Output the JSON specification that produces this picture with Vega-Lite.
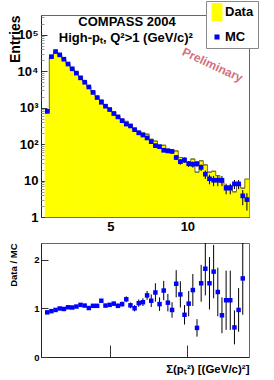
{
  "$schema": "https://vega.github.io/schema/vega-lite/v6.json",
  "background": "white",
  "padding": {"left": 7, "top": 0, "right": 0, "bottom": 0},
  "spacing": 26,
  "bounds": "flush",
  "config": {
    "font": "Liberation Sans",
    "view": {"stroke": "#666", "strokeWidth": 1},
    "axis": {"grid": false, "labelFont": "Liberation Sans", "labelFontWeight": "bold", "labelColor": "black", "titleFont": "Liberation Sans", "titleFontWeight": "bold", "titleColor": "black", "domainColor": "#222", "tickColor": "#333", "labelOverlap": false, "labelFlush": false}
  },
  "datasets": {
    "bins": [
      {"lo": 0.77, "hi": 1.04, "x": 0.905, "data": 730, "mc": 794, "mcerr": 20, "ratio": 0.92, "rerr": 0.012},
      {"lo": 1.04, "hi": 1.31, "x": 1.175, "data": 23700, "mc": 25100, "mcerr": 150, "ratio": 0.945, "rerr": 0.008},
      {"lo": 1.31, "hi": 1.58, "x": 1.445, "data": 33700, "mc": 34700, "mcerr": 180, "ratio": 0.97, "rerr": 0.008},
      {"lo": 1.58, "hi": 1.85, "x": 1.715, "data": 28200, "mc": 28200, "mcerr": 160, "ratio": 1.0, "rerr": 0.008},
      {"lo": 1.85, "hi": 2.12, "x": 1.985, "data": 21200, "mc": 21400, "mcerr": 140, "ratio": 0.99, "rerr": 0.008},
      {"lo": 2.12, "hi": 2.39, "x": 2.255, "data": 16200, "mc": 15800, "mcerr": 120, "ratio": 1.025, "rerr": 0.009},
      {"lo": 2.39, "hi": 2.66, "x": 2.525, "data": 11900, "mc": 11700, "mcerr": 100, "ratio": 1.02, "rerr": 0.01},
      {"lo": 2.66, "hi": 2.93, "x": 2.795, "data": 9260, "mc": 8900, "mcerr": 90, "ratio": 1.04, "rerr": 0.011},
      {"lo": 2.93, "hi": 3.2, "x": 3.065, "data": 7100, "mc": 6600, "mcerr": 80, "ratio": 1.075, "rerr": 0.012},
      {"lo": 3.2, "hi": 3.47, "x": 3.335, "data": 5300, "mc": 5000, "mcerr": 70, "ratio": 1.06, "rerr": 0.014},
      {"lo": 3.47, "hi": 3.74, "x": 3.605, "data": 3740, "mc": 3700, "mcerr": 60, "ratio": 1.01, "rerr": 0.016},
      {"lo": 3.74, "hi": 4.01, "x": 3.875, "data": 2770, "mc": 2630, "mcerr": 50, "ratio": 1.055, "rerr": 0.02},
      {"lo": 4.01, "hi": 4.28, "x": 4.145, "data": 2000, "mc": 1900, "mcerr": 45, "ratio": 1.055, "rerr": 0.025},
      {"lo": 4.28, "hi": 4.55, "x": 4.415, "data": 1640, "mc": 1410, "mcerr": 38, "ratio": 1.16, "rerr": 0.03},
      {"lo": 4.55, "hi": 4.82, "x": 4.685, "data": 1170, "mc": 1100, "mcerr": 34, "ratio": 1.06, "rerr": 0.035},
      {"lo": 4.82, "hi": 5.09, "x": 4.955, "data": 957, "mc": 890, "mcerr": 30, "ratio": 1.075, "rerr": 0.038},
      {"lo": 5.09, "hi": 5.36, "x": 5.225, "data": 760, "mc": 690, "mcerr": 26, "ratio": 1.1, "rerr": 0.042},
      {"lo": 5.36, "hi": 5.63, "x": 5.495, "data": 590, "mc": 560, "mcerr": 24, "ratio": 1.055, "rerr": 0.045},
      {"lo": 5.63, "hi": 5.9, "x": 5.765, "data": 480, "mc": 440, "mcerr": 21, "ratio": 1.09, "rerr": 0.05},
      {"lo": 5.9, "hi": 6.17, "x": 6.035, "data": 422, "mc": 355, "mcerr": 19, "ratio": 1.19, "rerr": 0.06},
      {"lo": 6.17, "hi": 6.44, "x": 6.305, "data": 337, "mc": 316, "mcerr": 18, "ratio": 1.065, "rerr": 0.06},
      {"lo": 6.44, "hi": 6.71, "x": 6.575, "data": 251, "mc": 250, "mcerr": 16, "ratio": 1.005, "rerr": 0.065},
      {"lo": 6.71, "hi": 6.98, "x": 6.845, "data": 226, "mc": 204, "mcerr": 14, "ratio": 1.11, "rerr": 0.075},
      {"lo": 6.98, "hi": 7.25, "x": 7.115, "data": 201, "mc": 178, "mcerr": 13, "ratio": 1.13, "rerr": 0.08},
      {"lo": 7.25, "hi": 7.52, "x": 7.385, "data": 188, "mc": 148, "mcerr": 12, "ratio": 1.27, "rerr": 0.09},
      {"lo": 7.52, "hi": 7.79, "x": 7.655, "data": 136, "mc": 117, "mcerr": 11, "ratio": 1.16, "rerr": 0.13},
      {"lo": 7.79, "hi": 8.06, "x": 7.925, "data": 121, "mc": 91, "mcerr": 10, "ratio": 1.33, "rerr": 0.19},
      {"lo": 8.06, "hi": 8.33, "x": 8.195, "data": 93, "mc": 85, "mcerr": 9, "ratio": 1.09, "rerr": 0.14},
      {"lo": 8.33, "hi": 8.6, "x": 8.465, "data": 93, "mc": 68, "mcerr": 8, "ratio": 1.37, "rerr": 0.2},
      {"lo": 8.6, "hi": 8.87, "x": 8.735, "data": 73, "mc": 65, "mcerr": 8, "ratio": 1.12, "rerr": 0.18},
      {"lo": 8.87, "hi": 9.14, "x": 9.005, "data": 61, "mc": 63, "mcerr": 8, "ratio": 0.97, "rerr": 0.16},
      {"lo": 9.14, "hi": 9.41, "x": 9.275, "data": 65, "mc": 43, "mcerr": 6.5, "ratio": 1.51, "rerr": 0.28},
      {"lo": 9.41, "hi": 9.68, "x": 9.545, "data": 43, "mc": 33, "mcerr": 5.7, "ratio": 1.29, "rerr": 0.27},
      {"lo": 9.68, "hi": 9.95, "x": 9.815, "data": 32, "mc": 37, "mcerr": 6, "ratio": 0.87, "rerr": 0.2},
      {"lo": 9.95, "hi": 10.22, "x": 10.085, "data": 32, "mc": 29, "mcerr": 5.4, "ratio": 1.1, "rerr": 0.26},
      {"lo": 10.22, "hi": 10.49, "x": 10.355, "data": 39, "mc": 28, "mcerr": 5.3, "ratio": 1.38, "rerr": 0.33},
      {"lo": 10.49, "hi": 10.76, "x": 10.625, "data": 17, "mc": 29, "mcerr": 5.4, "ratio": 0.6, "rerr": 0.18},
      {"lo": 10.76, "hi": 11.03, "x": 10.895, "data": 35, "mc": 23, "mcerr": 4.8, "ratio": 1.52, "rerr": 0.38},
      {"lo": 11.03, "hi": 11.3, "x": 11.165, "data": 27, "mc": 15, "mcerr": 3.9, "ratio": 1.82, "rerr": 0.55},
      {"lo": 11.3, "hi": 11.57, "x": 11.435, "data": 17, "mc": 11.2, "mcerr": 3.3, "ratio": 1.52, "rerr": 0.54},
      {"lo": 11.57, "hi": 11.84, "x": 11.705, "data": 18, "mc": 10.2, "mcerr": 3.2, "ratio": 1.76, "rerr": 0.55},
      {"lo": 11.84, "hi": 12.11, "x": 11.975, "data": 13.7, "mc": 10.2, "mcerr": 3.2, "ratio": 1.34, "rerr": 0.5},
      {"lo": 12.11, "hi": 12.38, "x": 12.245, "data": 8.8, "mc": 10.2, "mcerr": 3.2, "ratio": 0.86, "rerr": 0.37},
      {"lo": 12.38, "hi": 12.65, "x": 12.515, "data": 7.3, "mc": 6.2, "mcerr": 2.0, "ratio": 1.17, "rerr": 0.61},
      {"lo": 12.65, "hi": 12.92, "x": 12.785, "data": 7.3, "mc": 6.2, "mcerr": 2.0, "ratio": 1.17, "rerr": 0.61},
      {"lo": 12.92, "hi": 13.19, "x": 13.055, "data": 4.9, "mc": 8.1, "mcerr": 2.3, "ratio": 0.61, "rerr": 0.35},
      {"lo": 13.19, "hi": 13.46, "x": 13.325, "data": 7.9, "mc": 8.1, "mcerr": 2.3, "ratio": 0.97, "rerr": 0.45},
      {"lo": 13.46, "hi": 13.73, "x": 13.595, "data": 6.2, "mc": 3.8, "mcerr": 1.7, "ratio": 1.62, "rerr": 0.75},
      {"lo": 13.73, "hi": 14.0, "x": 13.865, "data": 11, "mc": 3.0, "mcerr": 1.5, "ratio": null, "rerr": null}
    ]
  },
  "vconcat": [
    {
      "width": 208,
      "height": 202,
      "resolve": {"axis": {"y": "independent"}},
      "layer": [
        {
          "data": {"name": "bins"},
          "mark": {"type": "rect", "fill": "#ffff00", "stroke": "#ffff00", "strokeWidth": 0.8},
          "encoding": {
            "x": {"field": "lo", "type": "quantitative", "scale": {"domain": [0.5, 14], "nice": false, "zero": false},
                  "axis": {"values": [5, 10], "tickSize": -17, "labelPadding": 20, "labelFontSize": 13, "title": null, "domainColor": "#222"}},
            "x2": {"field": "hi"},
            "y": {"field": "data", "type": "quantitative", "scale": {"type": "log", "domain": [1, 350000], "nice": false},
                  "axis": {"orient": "left", "values": [1, 10, 100, 1000, 10000, 100000],
                           "labelExpr": "datum.value == 1 ? '1' : datum.value == 10 ? '10' : datum.value == 100 ? '10²' : datum.value == 1000 ? '10³' : datum.value == 10000 ? '10⁴' : '10⁵'",
                           "tickSize": -6, "labelPadding": 9, "labelFontSize": 13,
                           "title": "Entries", "titleFontSize": 14, "titleX": -33, "titleY": 0, "titleAngle": 270, "titleAlign": "right", "titleBaseline": "top"}},
            "y2": {"datum": 1}
          }
        },
        {
          "data": {"name": "bins"},
          "mark": {"type": "line", "interpolate": "step-after", "color": "#6e6e40", "strokeWidth": 1},
          "encoding": {
            "x": {"field": "lo", "type": "quantitative"},
            "y": {"field": "data", "type": "quantitative", "axis": null}
          }
        },
        {
          "data": {"name": "bins"},
          "mark": {"type": "rule", "color": "#6e6e40", "strokeWidth": 1},
          "encoding": {
            "x": {"field": "lo", "type": "quantitative"},
            "x2": {"field": "hi"},
            "y": {"field": "data", "type": "quantitative",
                  "axis": {"orient": "left", "values": [2,3,4,5,6,7,8,9,20,30,40,50,60,70,80,90,200,300,400,500,600,700,800,900,2000,3000,4000,5000,6000,7000,8000,9000,20000,30000,40000,50000,60000,70000,80000,90000,200000,300000],
                           "labels": false, "domain": false, "tickSize": -3, "tickColor": "#999", "title": null}}
          }
        },
        {
          "data": {"name": "bins"},
          "mark": {"type": "errorbar", "color": "black", "thickness": 1},
          "encoding": {
            "x": {"field": "x", "type": "quantitative"},
            "y": {"field": "mc", "type": "quantitative", "axis": null},
            "yError": {"field": "mcerr"}
          }
        },
        {
          "data": {"name": "bins"},
          "mark": {"type": "point", "size": 170, "filled": true, "opacity": 1, "strokeWidth": 0},
          "encoding": {
            "x": {"field": "x", "type": "quantitative"},
            "y": {"field": "mc", "type": "quantitative", "axis": null},
            "fill": {"datum": "MC", "type": "nominal",
                     "scale": {"domain": ["Data", "MC"], "range": ["#ffff00", "#0000ff"]},
                     "legend": {"orient": "none", "legendX": 165, "legendY": -14, "title": null,
                                "fillColor": "white", "strokeColor": "#888", "padding": 4, "rowPadding": 8, "labelOffset": 1,
                                "labelFont": "Liberation Sans", "labelFontWeight": "bold", "labelFontSize": 13, "labelColor": "black",
                                "symbolSize": 196, "symbolStrokeWidth": 0}},
            "shape": {"datum": "MC", "type": "nominal",
                      "scale": {"domain": ["Data", "MC"], "range": ["M-0.78,-1.29H0.78V1.29H-0.78Z", "M-0.36,-0.36H0.36V0.36H-0.36Z"]},
                      "legend": {"orient": "none", "legendX": 165, "legendY": -14, "title": null,
                                "fillColor": "white", "strokeColor": "#888", "padding": 4, "rowPadding": 8, "labelOffset": 1,
                                "labelFont": "Liberation Sans", "labelFontWeight": "bold", "labelFontSize": 13, "labelColor": "black",
                                "symbolSize": 196, "symbolStrokeWidth": 0}}
          }
        },
        {
          "data": {"values": [{}]},
          "mark": {"type": "text", "font": "Liberation Sans", "fontWeight": "bold", "fontSize": 13, "align": "center", "baseline": "middle", "color": "black"},
          "encoding": {
            "x": {"datum": 6.08, "type": "quantitative"},
            "y": {"datum": 225000, "type": "quantitative", "axis": null},
            "text": {"value": "COMPASS 2004"}
          }
        },
        {
          "data": {"values": [{}]},
          "mark": {"type": "text", "font": "Liberation Sans", "fontWeight": "bold", "fontSize": 13, "align": "center", "baseline": "middle", "color": "black"},
          "encoding": {
            "x": {"datum": 6.01, "type": "quantitative"},
            "y": {"datum": 82000, "type": "quantitative", "axis": null},
            "text": {"value": "High-pₜ, Q²>1 (GeV/c)²"}
          }
        },
        {
          "data": {"values": [{}]},
          "mark": {"type": "text", "font": "Liberation Sans", "fontWeight": "bold", "fontSize": 12, "align": "center", "baseline": "middle", "color": "#d4707c", "angle": 25},
          "encoding": {
            "x": {"datum": 11.63, "type": "quantitative"},
            "y": {"datum": 14900, "type": "quantitative", "axis": null},
            "text": {"value": "Preliminary"}
          }
        }
      ]
    },
    {
      "width": 208,
      "height": 114,
      "data": {"name": "bins"},
      "transform": [{"filter": "isValid(datum.ratio)"}],
      "layer": [
        {
          "mark": {"type": "errorbar", "color": "black", "thickness": 1},
          "encoding": {
            "x": {"field": "x", "type": "quantitative", "scale": {"domain": [0.5, 14], "nice": false, "zero": false},
                  "axis": {"values": [5, 10], "tickSize": -12, "labels": false,
                           "title": "Σ(pₜ²) [(GeV/c)²]", "titleFontSize": 11.5, "titleX": 208, "titleY": 6, "titleAlign": "right", "titleBaseline": "top"}},
            "y": {"field": "ratio", "type": "quantitative", "scale": {"domain": [0, 2.35], "nice": false, "clamp": true},
                  "axis": {"values": [0, 0.5, 1, 1.5, 2],
                           "labelExpr": "datum.value == 0 ? '0' : datum.value == 0.5 ? '0.5' : datum.value == 1 ? '1' : datum.value == 1.5 ? '1.5' : '2'",
                           "tickSize": -7, "labelPadding": 9, "labelFontSize": 9.5,
                           "title": "Data / MC", "titleFontSize": 9.5, "titleX": -33, "titleY": 0, "titleAngle": 270, "titleAlign": "right", "titleBaseline": "top"}},
            "yError": {"field": "rerr"}
          }
        },
        {
          "mark": {"type": "square", "size": 20, "filled": true, "opacity": 1, "color": "#0000ff"},
          "encoding": {
            "x": {"field": "x", "type": "quantitative"},
            "y": {"field": "ratio", "type": "quantitative"}
          }
        }
      ]
    }
  ]
}
